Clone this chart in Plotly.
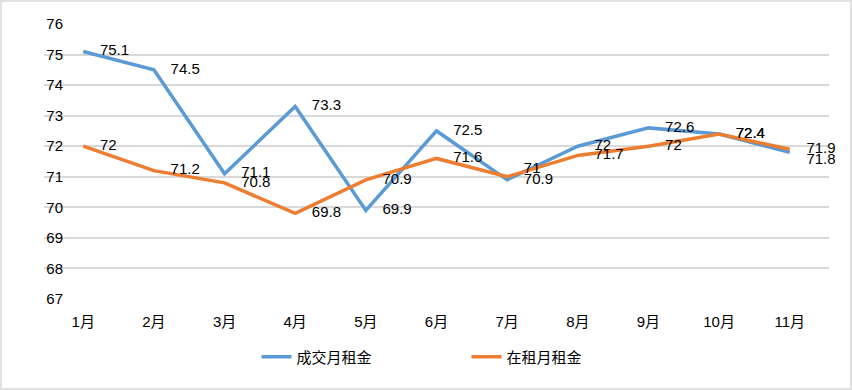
import plotly.graph_objects as go

months = ["1月", "2月", "3月", "4月", "5月", "6月", "7月", "8月", "9月", "10月", "11月"]
deal_rent = [75.1, 74.5, 71.1, 73.3, 69.9, 72.5, 70.9, 72.0, 72.6, 72.4, 71.8]
lease_rent = [72.0, 71.2, 70.8, 69.8, 70.9, 71.6, 71.0, 71.7, 72.0, 72.4, 71.9]
y_ticks = [67, 68, 69, 70, 71, 72, 73, 74, 75, 76]

blue = "#5B9BD5"
orange = "#ED7D31"
font_family = "Liberation Sans, Noto Sans CJK SC, sans-serif"

def fmt(v):
    return "%g" % v

deal_pos = ["middle right"] * 10 + ["bottom right"]
lease_pos = ["middle right"] * 6 + ["top right"] + ["middle right"] * 4

fig = go.Figure()
fig.add_trace(go.Scatter(
    x=months, y=deal_rent, mode="lines+text", name="成交月租金",
    line=dict(color=blue, width=3.5), cliponaxis=False,
    text=["    " + fmt(v) for v in deal_rent], textposition=deal_pos,
    textfont=dict(size=15, color="#000000", family=font_family),
))
fig.add_trace(go.Scatter(
    x=months, y=lease_rent, mode="lines+text", name="在租月租金",
    line=dict(color=orange, width=3.5), cliponaxis=False,
    text=["    " + fmt(v) for v in lease_rent], textposition=lease_pos,
    textfont=dict(size=15, color="#000000", family=font_family),
))

W, H = 852, 390
ml, mr, mt, mb = 44, 23, 24, 91
pw, ph = W - ml - mr, H - mt - mb

fig.update_layout(
    width=W, height=H,
    margin=dict(l=ml, r=mr, t=mt, b=mb),
    paper_bgcolor="white", plot_bgcolor="white",
    font=dict(family=font_family, size=15, color="#000000"),
    showlegend=True,
    legend=dict(orientation="h", x=0.5 + 30 / pw, xanchor="center", y=-(357 - 299) / ph, yanchor="middle",
                font=dict(size=15), itemwidth=30, entrywidthmode="pixels", entrywidth=165),
    xaxis=dict(showgrid=False, showline=False, zeroline=False, ticks="", tickfont=dict(size=15),
               ticklabelstandoff=12),
    yaxis=dict(range=[67, 76], tickvals=y_ticks, showgrid=True, gridcolor="#D9D9D9", gridwidth=1.5,
               zeroline=False, showline=False, ticks="", tickfont=dict(size=15),
               ticklabelstandoff=-20),
    shapes=[dict(type="rect", xref="paper", yref="paper",
                 x0=-(ml - 1) / pw, x1=1 + (mr - 1) / pw,
                 y0=-(mb - 1) / ph, y1=1 + (mt - 1) / ph,
                 line=dict(color="#D9D9D9", width=1.5), fillcolor="rgba(0,0,0,0)", layer="below")],
)

fig.write_html("out.html", post_script="document.body.style.margin='0';",
               config={"displayModeBar": False})
